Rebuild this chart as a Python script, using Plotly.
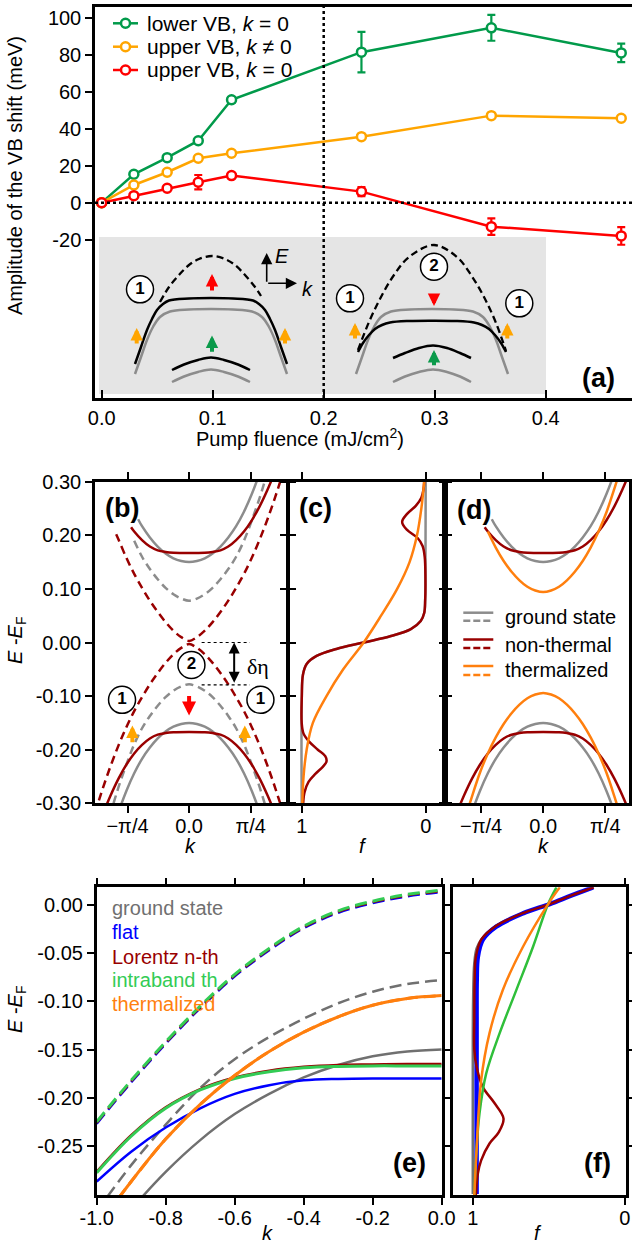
import plotly.graph_objects as go

W, H = 632, 1243
FONT = "Liberation Sans, Arial, sans-serif"

# ============================ DATA ============================
# ---- panel (a): VB shift amplitude vs pump fluence ----
fluence = [0.0, 0.029, 0.059, 0.087, 0.117, 0.234, 0.351, 0.468]
lower_vb_k0 = [0.0, 15.4, 24.4, 33.6, 55.8, 81.6, 94.8, 81.2]
lower_vb_k0_err = [None, None, None, None, 1.5, 11.0, 7.0, 5.0]
upper_vb_kn0 = [0.0, 9.6, 16.5, 24.1, 26.8, 35.8, 47.2, 45.8]
upper_vb_kn0_err = [None] * 8
upper_vb_k0 = [0.0, 3.8, 7.8, 11.1, 14.7, 6.0, -13.0, -18.0]
upper_vb_k0_err = [None, None, None, 3.9, None, 2.5, 4.5, 4.8]
a_names = ["lower VB, <i>k</i> = 0", "upper VB, <i>k</i> ≠ 0", "upper VB, <i>k</i> = 0"]
a_xticks = [0.0, 0.1, 0.2, 0.3, 0.4]
a_xticktext = ["0.0", "0.1", "0.2", "0.3", "0.4"]
a_yticks = [-20, 0, 20, 40, 60, 80, 100]
a_yticktext = ["-20", "0", "20", "40", "60", "80", "100"]

# ---- inset schematic of panel (a) (inset units) ----
ins_gs_L_u = [36, 42, 48, 54, 61, 71, 90, 112, 134, 153, 163, 170, 176, 182, 188]
ins_gs_L_v = [21, 38, 55, 68, 78, 83.5, 85.5, 86, 85.5, 83.5, 78, 68, 55, 38, 21]
ins_nt_L_u = [36, 42, 48, 53, 58, 64, 70, 90, 112, 134, 154, 160, 166, 171, 176, 182, 188]
ins_nt_L_v = [31, 48, 65, 76, 85, 91, 94.5, 96.5, 97, 96.5, 94.5, 91, 85, 76, 65, 48, 31]
ins_dash_L_u = [61, 70, 80, 90, 100, 113, 126, 136, 146, 156, 162]
ins_dash_L_v = [93, 108, 120, 130, 136, 139, 136, 130, 120, 108, 99]
ins_low_L_u = [73, 85, 99, 112, 125, 139, 151]
ins_low_nt_L_v = [25, 30.5, 35, 37.5, 35, 30.5, 25]
ins_low_gs_L_v = [13, 18.5, 23, 25.5, 23, 18.5, 13]
ins_gs_R_u = [257, 263, 269, 275, 282, 292, 311, 333, 355, 374, 384, 391, 397, 403, 409]
ins_gs_R_v = [21, 38, 55, 68, 78, 83.5, 85.5, 86, 85.5, 83.5, 78, 68, 55, 38, 21]
ins_th_R_u = [259, 264, 270, 276, 283, 291, 310, 333, 356, 375, 383, 390, 396, 402, 407]
ins_th_R_v = [43, 52, 60, 66, 70, 72.5, 74, 74.3, 74, 72.5, 70, 66, 60, 52, 43]
ins_dash_R_u = [259, 270, 282, 295, 310, 335, 358, 372, 385, 397, 407]
ins_dash_R_v = [45, 73, 98, 120, 138, 150, 138, 120, 98, 72, 44]
ins_low_R_u = [294, 306, 320, 334, 348, 361, 372]
ins_low_th_R_v = [37, 42, 47, 49.5, 47, 42, 37]
ins_low_gs_R_v = [13, 18.5, 23, 25.5, 23, 18.5, 13]

# ---- panels (b), (d): band dispersions ----
k_gs_vb = [-1.0, -0.9, -0.8, -0.7, -0.6, -0.5, -0.4, -0.3, -0.2, -0.1, 0.0,
           0.1, 0.2, 0.3, 0.4, 0.5, 0.6, 0.7, 0.8, 0.9, 1.0]
E_gs_vb = [-0.36, -0.316, -0.277, -0.244, -0.217, -0.196, -0.179, -0.166, -0.157, -0.152, -0.150,
           -0.152, -0.157, -0.166, -0.179, -0.196, -0.217, -0.244, -0.277, -0.316, -0.36]
k_gs_cb = [-0.65, -0.6, -0.5, -0.4, -0.3, -0.2, -0.1, 0.0, 0.1, 0.2, 0.3, 0.4, 0.5, 0.6, 0.7, 0.8, 0.9, 1.0]
E_gs_cb = [0.230, 0.217, 0.196, 0.179, 0.166, 0.157, 0.152, 0.150, 0.152, 0.157, 0.166, 0.179, 0.196,
           0.217, 0.244, 0.277, 0.316, 0.36]
k_gd_vb = [-1.1, -1.0, -0.9, -0.8, -0.7, -0.6, -0.5, -0.4, -0.3, -0.2, -0.1, 0.0,
           0.1, 0.2, 0.3, 0.4, 0.5, 0.6, 0.7, 0.8, 0.9, 1.0, 1.1]
E_gd_vb = [-0.37, -0.318, -0.270, -0.228, -0.190, -0.160, -0.137, -0.118, -0.102, -0.090, -0.082, -0.078,
           -0.082, -0.090, -0.102, -0.118, -0.137, -0.160, -0.190, -0.228, -0.270, -0.318, -0.37]
k_gd_cb = [-0.7, -0.6, -0.5, -0.4, -0.3, -0.2, -0.1, 0.0, 0.1, 0.2, 0.3, 0.4, 0.5, 0.6, 0.7, 0.8, 0.9, 1.0, 1.1]
E_gd_cb = [0.190, 0.160, 0.137, 0.118, 0.102, 0.090, 0.082, 0.078, 0.082, 0.090, 0.102, 0.118, 0.137,
           0.160, 0.190, 0.228, 0.270, 0.318, 0.37]
k_nt_vb = [-1.1, -1.0, -0.9, -0.8, -0.7, -0.6, -0.5, -0.4, -0.3, -0.2, 0.0,
           0.2, 0.3, 0.4, 0.5, 0.6, 0.7, 0.8, 0.9, 1.0, 1.1]
E_nt_vb = [-0.32, -0.285, -0.254, -0.228, -0.207, -0.191, -0.179, -0.172, -0.169, -0.1675, -0.167,
           -0.1675, -0.169, -0.172, -0.179, -0.191, -0.207, -0.228, -0.254, -0.285, -0.32]
k_nt_cb = [-0.74, -0.7, -0.6, -0.5, -0.4, -0.3, -0.2, 0.0, 0.2, 0.3, 0.4, 0.5, 0.6, 0.7, 0.8, 0.9, 1.0, 1.1]
E_nt_cb = [0.215, 0.207, 0.191, 0.179, 0.172, 0.169, 0.1675, 0.167, 0.1675, 0.169, 0.172, 0.179, 0.191,
           0.207, 0.228, 0.254, 0.285, 0.32]
k_ntd_vb = [-1.2, -1.1, -1.0, -0.9, -0.8, -0.7, -0.6, -0.5, -0.4, -0.3, -0.2, -0.1, 0.0,
            0.1, 0.2, 0.3, 0.4, 0.5, 0.6, 0.7, 0.8, 0.9, 1.0, 1.1, 1.2]
E_ntd_vb = [-0.318, -0.272, -0.230, -0.192, -0.158, -0.128, -0.102, -0.078, -0.057, -0.038, -0.022, -0.010, -0.003,
            -0.010, -0.022, -0.038, -0.057, -0.078, -0.102, -0.128, -0.158, -0.192, -0.230, -0.272, -0.318]
k_ntd_cb = [-0.93, -0.9, -0.8, -0.7, -0.6, -0.5, -0.4, -0.3, -0.2, -0.1, 0.0,
            0.1, 0.2, 0.3, 0.4, 0.5, 0.6, 0.7, 0.8, 0.9, 1.0, 1.1, 1.2]
E_ntd_cb = [0.202, 0.192, 0.158, 0.128, 0.102, 0.078, 0.057, 0.038, 0.022, 0.010, 0.003,
            0.010, 0.022, 0.038, 0.057, 0.078, 0.102, 0.128, 0.158, 0.192, 0.230, 0.272, 0.318]
k_th_vb = [-1.0, -0.9, -0.8, -0.7, -0.6, -0.5, -0.4, -0.3, -0.2, -0.1, 0.0,
           0.1, 0.2, 0.3, 0.4, 0.5, 0.6, 0.7, 0.8, 0.9, 1.0]
E_th_vb = [-0.335, -0.287, -0.243, -0.207, -0.177, -0.152, -0.132, -0.116, -0.104, -0.097, -0.094,
           -0.097, -0.104, -0.116, -0.132, -0.152, -0.177, -0.207, -0.243, -0.287, -0.335]
k_th_cb = [-0.7, -0.6, -0.5, -0.4, -0.3, -0.2, -0.1, 0.0, 0.1, 0.2, 0.3, 0.4, 0.5, 0.6, 0.7, 0.8, 0.9, 1.0]
E_th_cb = [0.207, 0.177, 0.152, 0.132, 0.116, 0.104, 0.097, 0.094, 0.097, 0.104, 0.116, 0.132, 0.152,
           0.177, 0.207, 0.243, 0.287, 0.335]

# ---- panel (c): distribution functions ----
c_gs_E = [0.30, 0.12, 0.08, 0.055, 0.04, 0.025, 0.012, 0.0, -0.012, -0.025, -0.04, -0.06, -0.10, -0.30]
c_gs_f = [0.0, 0.002, 0.004, 0.012, 0.04, 0.12, 0.28, 0.50, 0.72, 0.88, 0.96, 0.99, 0.999, 1.0]
c_nt_E = [0.30, 0.285, 0.27, 0.255, 0.24, 0.225, 0.21, 0.195, 0.18, 0.16, 0.12, 0.08, 0.055, 0.04, 0.025,
          0.012, 0.0, -0.012, -0.025, -0.04, -0.06, -0.10, -0.15, -0.17, -0.185, -0.20, -0.212, -0.222,
          -0.232, -0.245, -0.26, -0.28, -0.30]
c_nt_f = [0.012, 0.018, 0.035, 0.08, 0.15, 0.19, 0.15, 0.065, 0.025, 0.008, 0.002, 0.004, 0.012, 0.04, 0.12,
          0.28, 0.50, 0.72, 0.88, 0.96, 0.99, 0.999, 1.0, 0.985, 0.94, 0.87, 0.81, 0.80, 0.83, 0.89, 0.945,
          0.978, 0.988]
c_th_E = [0.30, 0.25, 0.20, 0.15, 0.10, 0.05, 0.0, -0.05, -0.10, -0.15, -0.20, -0.25, -0.30]
c_th_f = [0.012, 0.035, 0.07, 0.13, 0.23, 0.36, 0.50, 0.665, 0.80, 0.91, 0.96, 0.985, 0.995]

# ---- panel (e): zoom of the valence bands ----
k_e = [-1.0, -0.9, -0.8, -0.7, -0.6, -0.5, -0.4, -0.3, -0.2, -0.1, 0.0]
e_gs_solid = [-0.36, -0.316, -0.277, -0.244, -0.217, -0.196, -0.179, -0.166, -0.157, -0.152, -0.150]
e_gs_dash = [-0.318, -0.270, -0.228, -0.190, -0.160, -0.137, -0.118, -0.102, -0.090, -0.082, -0.078]
e_flat_solid = [-0.287, -0.256, -0.231, -0.211, -0.196, -0.187, -0.182, -0.1805, -0.180, -0.180, -0.180]
e_flat_dash = [-0.227, -0.184, -0.144, -0.107, -0.074, -0.047, -0.024, -0.008, 0.002, 0.009, 0.0135]
e_lor_solid = [-0.277, -0.239, -0.210, -0.191, -0.179, -0.172, -0.168, -0.166, -0.1655, -0.165, -0.165]
e_lor_dash = [-0.226, -0.183, -0.143, -0.106, -0.073, -0.046, -0.023, -0.007, 0.003, 0.010, 0.0145]
e_intra_solid = [-0.278, -0.240, -0.211, -0.192, -0.180, -0.173, -0.169, -0.1675, -0.167, -0.167, -0.167]
e_intra_dash = [-0.225, -0.182, -0.142, -0.105, -0.072, -0.045, -0.022, -0.006, 0.004, 0.011, 0.0155]
e_th = [-0.335, -0.287, -0.243, -0.207, -0.177, -0.152, -0.132, -0.116, -0.104, -0.097, -0.094]
e_legend = ["ground state", "flat", "Lorentz n-th", "intraband th", "thermalized"]

# ---- panel (f): distribution functions ----
f_gs_E = [-0.30, -0.20, -0.10, -0.06, -0.045, -0.036, -0.0225, -0.0087, 0.001, 0.010, 0.0184]
f_gs_f = [1.0, 1.0, 0.998, 0.99, 0.975, 0.945, 0.855, 0.675, 0.494, 0.35, 0.205]
f_flat_E = [0.0184, 0.010, 0.001, -0.0087, -0.0225, -0.036, -0.054, -0.078, -0.12, -0.20, -0.30]
f_flat_f = [0.209, 0.35, 0.494, 0.67, 0.846, 0.934, 0.967, 0.974, 0.975, 0.975, 0.975]
f_lor_E = [0.0184, 0.010, 0.001, -0.0087, -0.0225, -0.036, -0.054, -0.078, -0.12, -0.15, -0.168, -0.189,
           -0.205, -0.2216, -0.236, -0.2475, -0.265, -0.279, -0.301]
f_lor_f = [0.205, 0.35, 0.494, 0.675, 0.855, 0.945, 0.98, 0.988, 0.99, 0.99, 0.975, 0.934, 0.86, 0.798,
           0.83, 0.89, 0.945, 0.967, 0.98]
f_intra_E = [0.0184, 0.001, -0.0433, -0.0883, -0.1333, -0.175, -0.2164, -0.26, -0.301]
f_intra_f = [0.45, 0.505, 0.604, 0.714, 0.824, 0.912, 0.956, 0.978, 0.99]
f_th_E = [0.0184, 0.001, -0.0433, -0.088, -0.133, -0.182, -0.251, -0.301]
f_th_f = [0.428, 0.505, 0.67, 0.802, 0.89, 0.945, 0.974, 0.99]

PI4 = 0.7853981634
k_ticks = [-PI4, 0.0, PI4]
k_ticktext = ["\u2212\u03c0/4", "0.0", "\u03c0/4"]
E_ticks_b = [-0.3, -0.2, -0.1, 0.0, 0.1, 0.2, 0.3]
E_ticktext_b = ["-0.30", "-0.20", "-0.10", "0.00", "0.10", "0.20", "0.30"]
f_ticks = [1, 0]
f_ticktext = ["1", "0"]
e_xticks = [-1.0, -0.8, -0.6, -0.4, -0.2, 0.0]
e_xticktext = ["-1.0", "-0.8", "-0.6", "-0.4", "-0.2", "0.0"]
e_yticks = [-0.25, -0.20, -0.15, -0.10, -0.05, 0.0]
e_yticktext = ["-0.25", "-0.20", "-0.15", "-0.10", "-0.05", "0.00"]

# ============================ STYLE ============================
GREEN_A, ORANGE_A, RED_A = "#019a4a", "#ffa500", "#ff0000"
GREY, DARKRED, ORANGE = "#8c8c8c", "#990000", "#ff7f0e"
GREY_E, BLUE, GREEN_E = "#707070", "#0000ff", "#33cc55"
INSET_GREY = "#e5e5e5"


def px2x(p):
    return p / W


def px2y(p):
    return 1 - p / H


fig = go.Figure()


def line(x, y, xa, ya, color, width=2.5, dash=None, spline=True):
    fig.add_trace(go.Scatter(
        x=x, y=y, xaxis=xa, yaxis=ya, mode="lines",
        line=dict(color=color, width=width, dash=dash, shape="spline" if spline else "linear", smoothing=1.0),
        hoverinfo="skip", showlegend=False))


# ---------------- panel (a) ----------------
for yv, err, col in [(lower_vb_k0, lower_vb_k0_err, GREEN_A),
                     (upper_vb_kn0, upper_vb_kn0_err, ORANGE_A),
                     (upper_vb_k0, upper_vb_k0_err, RED_A)]:
    fig.add_trace(go.Scatter(
        x=fluence, y=yv, xaxis="x", yaxis="y", mode="lines+markers",
        line=dict(color=col, width=2.5),
        marker=dict(symbol="circle", size=9, color="white", line=dict(color=col, width=2.5)),
        error_y=dict(type="data", array=err, visible=True, color=col, thickness=2.2, width=4),
        cliponaxis=False, showlegend=False, hoverinfo="skip"))

# inset (x7/y7)
line(ins_gs_L_u, ins_gs_L_v, "x7", "y7", GREY, 2.5)
line(ins_nt_L_u, ins_nt_L_v, "x7", "y7", "black", 2.5)
line(ins_dash_L_u, ins_dash_L_v, "x7", "y7", "black", 2.3, dash="7px,4px")
line(ins_low_L_u, ins_low_gs_L_v, "x7", "y7", GREY, 2.5)
line(ins_low_L_u, ins_low_nt_L_v, "x7", "y7", "black", 2.5)
line(ins_gs_R_u, ins_gs_R_v, "x7", "y7", GREY, 2.5)
line(ins_th_R_u, ins_th_R_v, "x7", "y7", "black", 2.5)
line(ins_dash_R_u, ins_dash_R_v, "x7", "y7", "black", 2.3, dash="7px,4px")
line(ins_low_R_u, ins_low_gs_R_v, "x7", "y7", GREY, 2.5)
line(ins_low_R_u, ins_low_th_R_v, "x7", "y7", "black", 2.5)

# ---------------- panel (b) ----------------
line(k_gd_vb, E_gd_vb, "x2", "y2", GREY, 2.5, dash="8px,5px")
line(k_gd_cb, E_gd_cb, "x2", "y2", GREY, 2.5, dash="8px,5px")
line(k_gs_vb, E_gs_vb, "x2", "y2", GREY, 2.5)
line(k_gs_cb, E_gs_cb, "x2", "y2", GREY, 2.5)
line(k_ntd_vb, E_ntd_vb, "x2", "y2", DARKRED, 2.5, dash="8px,5px")
line(k_ntd_cb, E_ntd_cb, "x2", "y2", DARKRED, 2.5, dash="8px,5px")
line(k_nt_vb, E_nt_vb, "x2", "y2", DARKRED, 2.5)
line(k_nt_cb, E_nt_cb, "x2", "y2", DARKRED, 2.5)

# ---------------- panel (c) ----------------
line(c_gs_f, c_gs_E, "x3", "y3", GREY, 2.5)
line(c_nt_f, c_nt_E, "x3", "y3", DARKRED, 2.5)
line(c_th_f, c_th_E, "x3", "y3", ORANGE, 2.5)

# ---------------- panel (d) ----------------
line(k_gs_vb, E_gs_vb, "x4", "y4", GREY, 2.5)
line(k_gs_cb, E_gs_cb, "x4", "y4", GREY, 2.5)
line(k_nt_vb, E_nt_vb, "x4", "y4", DARKRED, 2.5)
line(k_nt_cb, E_nt_cb, "x4", "y4", DARKRED, 2.5)
line(k_th_vb, E_th_vb, "x4", "y4", ORANGE, 2.5)
line(k_th_cb, E_th_cb, "x4", "y4", ORANGE, 2.5)

# ---------------- panel (e) ----------------
line(k_e, e_gs_solid, "x5", "y5", GREY_E, 2.5)
line(k_e, e_gs_dash, "x5", "y5", GREY_E, 2.5, dash="12px,6px")
line(k_e, e_flat_solid, "x5", "y5", BLUE, 2.5)
line(k_e, e_flat_dash, "x5", "y5", BLUE, 2.5, dash="12px,6px")
line(k_e, e_lor_solid, "x5", "y5", DARKRED, 2.5)
line(k_e, e_lor_dash, "x5", "y5", DARKRED, 2.5, dash="12px,6px")
line(k_e, e_intra_solid, "x5", "y5", GREEN_E, 3)
line(k_e, e_intra_dash, "x5", "y5", GREEN_E, 3, dash="12px,6px")
line(k_e, e_th, "x5", "y5", ORANGE, 3)
line(k_e, e_th, "x5", "y5", ORANGE, 3, dash="12px,6px")

# ---------------- panel (f) ----------------
line(f_gs_f, f_gs_E, "x6", "y6", GREY_E, 2.5)
line(f_flat_f, f_flat_E, "x6", "y6", BLUE, 4.5)
line(f_lor_f, f_lor_E, "x6", "y6", DARKRED, 2.5)
line(f_intra_f, f_intra_E, "x6", "y6", "#2fbf3a", 2.5)
line(f_th_f, f_th_E, "x6", "y6", ORANGE, 2.5)


# ---------------- circled numbers ----------------
def circled(xs, ys, labels, xa, ya):
    fig.add_trace(go.Scatter(
        x=xs, y=ys, xaxis=xa, yaxis=ya, mode="markers+text",
        marker=dict(symbol="circle", size=27, color="white", line=dict(color="black", width=1.5)),
        text=["<b>%s</b>" % t for t in labels], textposition="middle center",
        textfont=dict(family=FONT, size=17, color="black"),
        cliponaxis=False, showlegend=False, hoverinfo="skip"))


circled([41, 335, 251, 420.3], [105.7, 128.3, 96.7, 91.7], ["1", "2", "1", "1"], "x7", "y7")
circled([0.03, -0.855, 0.91], [-0.042, -0.107, -0.107], ["2", "1", "1"], "x2", "y2")

# ---------------- legend of (a) (aux paper axis x8/y8) ----------------
a_leg_rows = [23.3, 46.7, 70.0]
for name, col, row in zip(a_names, [GREEN_A, ORANGE_A, RED_A], a_leg_rows):
    fig.add_trace(go.Scatter(x=[113, 138], y=[row, row], xaxis="x8", yaxis="y8", mode="lines",
                             line=dict(color=col, width=2.5), showlegend=False, hoverinfo="skip"))
    fig.add_trace(go.Scatter(x=[125.5], y=[row], xaxis="x8", yaxis="y8", mode="markers",
                             marker=dict(symbol="circle", size=9, color="white", line=dict(color=col, width=2.5)),
                             showlegend=False, hoverinfo="skip"))

# ============================ LAYOUT ============================
annotations = []
shapes = []


def ann(text, x, y, size=20, xanchor="center", yanchor="middle", angle=0, color="black", family=FONT, **kw):
    annotations.append(dict(text=text, x=px2x(x), y=px2y(y), xref="paper", yref="paper", showarrow=False,
                            xanchor=xanchor, yanchor=yanchor, textangle=angle,
                            font=dict(family=family, size=size, color=color), **kw))


# legend (a) texts
for name, row in zip(a_names, a_leg_rows):
    ann(name, 145, row, size=21, xanchor="left")

# panel labels
for lab, x, y in [("(a)", 598, 378), ("(b)", 121.5, 508), ("(c)", 315.5, 508), ("(d)", 474, 510),
                  ("(e)", 409, 1163), ("(f)", 597, 1163)]:
    ann("<b>%s</b>" % lab, x, y, size=27)

# axis titles
ann("Amplitude of the VB shift (meV)", 15, 176, angle=-90)
ann("Pump fluence (mJ/cm<sup>2</sup>)", 300, 437)
ann("<i>E</i> -<i>E</i><sub>F</sub>", 16, 641, angle=-90)
ann("<i>E</i> -<i>E</i><sub>F</sub>", 16, 1010, angle=-90)
ann("<i>k</i>", 190, 846)
ann("<i>f</i>", 363, 846)
ann("<i>k</i>", 543, 846)
ann("<i>k</i>", 267, 1233)
ann("<i>f</i>", 538, 1233)

# legend of (d)
for lab, col, ys, yd, yt in [("ground state", GREY, 612.7, 620.7, 616.7),
                             ("non-thermal", DARKRED, 639.5, 648.0, 644.5),
                             ("thermalized", ORANGE, 666.0, 675.0, 670.5)]:
    shapes.append(dict(type="line", xref="paper", yref="paper", x0=px2x(463.3), x1=px2x(493.3),
                       y0=px2y(ys), y1=px2y(ys), line=dict(color=col, width=2.5)))
    shapes.append(dict(type="line", xref="paper", yref="paper", x0=px2x(463.3), x1=px2x(493.3),
                       y0=px2y(yd), y1=px2y(yd), line=dict(color=col, width=2.5, dash="7px,3px")))
    ann(lab, 503, yt, xanchor="left")

# legend of (e)
for lab, col, y in zip(e_legend, [GREY_E, BLUE, DARKRED, GREEN_E, ORANGE], [908, 932, 957, 980, 1004]):
    ann(lab, 110, y, xanchor="left", color=col)


# arrows
def arrow(xr, yr, x0, y0, x1, y1, color, width=4, size=0.62, head=2, side="end"):
    annotations.append(dict(x=x1, y=y1, ax=x0, ay=y0, xref=xr, yref=yr, axref=xr, ayref=yr,
                            showarrow=True, arrowhead=head, arrowsize=size, arrowwidth=width,
                            arrowcolor=color, arrowside=side, text="", standoff=0, startstandoff=0))


# inset arrows
arrow("x7", "y7", 113, 103, 113, 121, RED_A)
arrow("x7", "y7", 113, 41.7, 113, 59.5, "#0a9a4a")
arrow("x7", "y7", 37.7, 50, 37.7, 67, ORANGE_A)
arrow("x7", "y7", 186, 50, 186, 67, ORANGE_A)
arrow("x7", "y7", 335, 102, 335, 89, RED_A)
arrow("x7", "y7", 335, 28.3, 335, 45, "#0a9a4a")
arrow("x7", "y7", 256, 55, 256, 72, ORANGE_A)
arrow("x7", "y7", 408.3, 55, 408.3, 72, ORANGE_A)
arrow("x7", "y7", 167.7, 111.7, 167.7, 142, "black", width=1.6, size=1.4)
arrow("x7", "y7", 167.7, 111.7, 198, 111.7, "black", width=1.6, size=1.4)
annotations.append(dict(text="<i>E</i>", x=183, y=139, xref="x7", yref="y7", showarrow=False,
                        font=dict(family=FONT, size=20, color="black")))
annotations.append(dict(text="<i>k</i>", x=208, y=105.7, xref="x7", yref="y7", showarrow=False,
                        font=dict(family=FONT, size=20, color="black")))

# panel (b) arrows & delta eta
arrow("x2", "y2", 0.0, -0.097, 0.0, -0.136, RED_A, width=4, size=0.7)
arrow("x2", "y2", -0.723, -0.189, -0.723, -0.155, ORANGE_A)
arrow("x2", "y2", 0.711, -0.189, 0.711, -0.155, ORANGE_A)
arrow("x2", "y2", 0.575, -0.078, 0.575, 0.0, "black", width=2, size=1.1, side="end+start")
annotations.append(dict(text="\u03b4\u03b7", x=0.88, y=-0.045, xref="x2", yref="y2", showarrow=False,
                        font=dict(family="Liberation Serif, serif", size=22, color="black")))
for yv in [0.0, -0.079]:
    shapes.append(dict(type="line", xref="x2", yref="y2", x0=0.16, x1=0.775, y0=yv, y1=yv,
                       line=dict(color="black", width=1.2, dash="dot")))

# panel (a) reference lines and inset background
shapes.append(dict(type="rect", xref="paper", yref="paper", x0=px2x(99), x1=px2x(546),
                   y0=px2y(394), y1=px2y(237), fillcolor=INSET_GREY, line=dict(width=0), layer="below"))
shapes.append(dict(type="line", xref="x domain", yref="y", x0=0, x1=1, y0=0, y1=0,
                   line=dict(color="black", width=2.5, dash="dot")))
shapes.append(dict(type="line", xref="x", yref="y domain", x0=0.2, x1=0.2, y0=0, y1=1,
                   line=dict(color="black", width=2.5, dash="dot")))


def axis(domain, rng, anchor, tickvals=None, ticktext=None, ticks="outside", mirror="ticks",
         showticklabels=True, ticklen=7, standoff=0):
    return dict(domain=domain, range=rng, anchor=anchor, showline=True, linecolor="black", linewidth=2.5,
                mirror=mirror, ticks=ticks, ticklen=ticklen, tickwidth=2.2, tickcolor="black",
                tickvals=tickvals, ticktext=ticktext, showticklabels=showticklabels, showgrid=False,
                zeroline=False, tickfont=dict(family=FONT, size=20, color="black"), fixedrange=True,
                automargin=False, ticklabelstandoff=standoff)


yb_dom = [px2y(803.3), px2y(481.7)]
ye_dom = [px2y(1195), px2y(887.3)]
hidden = dict(visible=False, showgrid=False, zeroline=False, fixedrange=True, automargin=False)

fig.update_layout(
    template="none",
    width=W, height=H, margin=dict(l=0, r=0, t=0, b=0, pad=0), autosize=False,
    paper_bgcolor="white", plot_bgcolor="rgba(0,0,0,0)", showlegend=False,
    font=dict(family=FONT, size=20, color="black"),
    xaxis=axis([px2x(95), 1.0], [-0.006, 0.4777], "y", a_xticks, a_xticktext, ticks="inside",
               mirror=True, ticklen=8),
    yaxis=axis([px2y(398), px2y(7)], [-105.9, 106.1], "x", a_yticks, a_yticktext, mirror=False),
    xaxis2=axis([px2x(95), px2x(286.7)], [-1.2, 1.245], "y2", k_ticks, k_ticktext, standoff=-4),
    yaxis2=axis(yb_dom, [-0.3, 0.3], "x2", E_ticks_b, E_ticktext_b),
    xaxis3=axis([px2x(289.3), px2x(442.3)], [1.1, -0.134], "y3", f_ticks, f_ticktext, standoff=-4),
    yaxis3=axis(yb_dom, [-0.3, 0.3], "x3", E_ticks_b, showticklabels=False),
    xaxis4=axis([px2x(448.3), px2x(629)], [-1.2, 1.085], "y4", k_ticks, k_ticktext, standoff=-4),
    yaxis4=axis(yb_dom, [-0.3, 0.3], "x4", E_ticks_b, showticklabels=False),
    xaxis5=axis([px2x(96.7), px2x(441.7)], [-1.0, 0.0], "y5", e_xticks, e_xticktext, standoff=-4),
    yaxis5=axis(ye_dom, [-0.301, 0.0184], "x5", e_yticks, e_yticktext),
    xaxis6=axis([px2x(452.7), px2x(626)], [1.132, -0.007], "y6", f_ticks, f_ticktext, standoff=-4),
    yaxis6=axis(ye_dom, [-0.301, 0.0184], "x6", e_yticks, showticklabels=False),
    xaxis7=dict(domain=[px2x(99), px2x(546)], range=[0, 447], anchor="y7", **hidden),
    yaxis7=dict(domain=[px2y(395), px2y(237)], range=[0, 158], anchor="x7", **hidden),
    xaxis8=dict(domain=[0, 1], range=[0, W], anchor="y8", **hidden),
    yaxis8=dict(domain=[0, 1], range=[H, 0], anchor="x8", **hidden),
    annotations=annotations, shapes=shapes,
)

fig.write_html("out.html", config={"displayModeBar": False},
               post_script="document.body.style.margin='0';document.body.style.overflow='hidden';")
